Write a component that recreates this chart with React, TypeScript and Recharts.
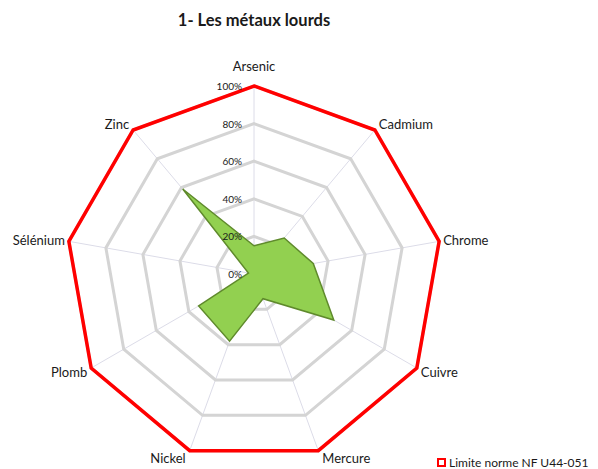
import React from 'react';
import { RadarChart, Radar, PolarGrid, PolarAngleAxis, PolarRadiusAxis, Legend } from 'recharts';

const title = '1- Les métaux lourds';
const categories = ['Arsenic', 'Cadmium', 'Chrome', 'Cuivre', 'Mercure', 'Nickel', 'Plomb', 'Sélénium', 'Zinc'];
const teneurs = [15, 25, 32, 49, 14, 38, 34, 3, 59];
const limite = [100, 100, 100, 100, 100, 100, 100, 100, 100];
const radiusTicks = [0, 20, 40, 60, 80, 100];
const limiteLabel = 'Limite norme NF U44-051';

const data = categories.map((c, i) => ({ categorie: c, teneur: teneurs[i], limite: limite[i] }));

const W = 590;
const H = 461;
const CX = 246;
const CY = 266;
const R = 188;
const FONT = 'Lato, "Liberation Sans", sans-serif';
const RAD = Math.PI / 180;

function AngleTick(props: any) {
  const { payload } = props;
  const cx = typeof props.cx === 'number' ? props.cx : CX;
  const cy = typeof props.cy === 'number' ? props.cy : CY;
  const radius = typeof props.radius === 'number' ? props.radius : R;
  const a = payload.coordinate;
  const c = Math.cos(a * RAD);
  const s = Math.sin(a * RAD);
  const vx = cx + radius * c;
  const vy = cy - radius * s;
  const anchor = Math.abs(c) < 0.1 ? 'middle' : c > 0 ? 'start' : 'end';
  const x = vx + (Math.abs(c) < 0.1 ? 0 : Math.sign(c) * 4);
  const y = s > 0.9 ? vy - 20 : vy - 8 * s;
  return (
    <text x={x} y={y} textAnchor={anchor} dominantBaseline="central" fontSize={13} fontFamily={FONT} fill="#1a1a1a">
      {payload.value}
    </text>
  );
}

function RadiusTick(props: any) {
  const { x, y, payload } = props;
  return (
    <text x={x - 12} y={y} textAnchor="end" dominantBaseline="central" fontSize={10} fontFamily={FONT} fill="#1a1a1a">
      {payload.value}%
    </text>
  );
}

function LegendContent() {
  return (
    <div style={{ display: 'flex', alignItems: 'center', fontFamily: FONT, fontSize: 12, color: '#1a1a1a', whiteSpace: 'nowrap' }}>
      <span style={{ display: 'inline-block', width: 5, height: 5, border: '2px solid #ff0000', background: '#fff', marginRight: 3 }} />
      {limiteLabel}
    </div>
  );
}

export default function App() {
  return (
    <div style={{ position: 'relative', width: W, height: H, fontFamily: FONT }}>
      <div style={{ position: 'absolute', left: 0, top: 3, width: 492, textAlign: 'center', fontWeight: 700, fontSize: 16.5, lineHeight: '18px', color: '#1a1a1a', zIndex: 2 }}>
        {title}
      </div>
      <RadarChart width={W} height={H} data={data} cx={CX} cy={CY} outerRadius={R} margin={{ top: 0, right: 0, bottom: 0, left: 0 }}>
        <PolarGrid gridType="polygon" polarRadius={[0]} stroke="#dcdce8" strokeWidth={1} />
        <PolarGrid gridType="polygon" radialLines={false} stroke="#d4d4d4" strokeWidth={3} />
        <PolarAngleAxis dataKey="categorie" tick={<AngleTick />} tickLine={false} axisLine={false} />
        <PolarRadiusAxis angle={90} domain={[0, 100]} ticks={radiusTicks} tickCount={6} axisLine={false} tick={<RadiusTick />} tickLine={false} />
        <Radar name="Teneur" dataKey="teneur" fill="#92d050" fillOpacity={1} stroke="#5f8a2c" strokeWidth={1.5} dot={false} isAnimationActive={false} />
        <Radar name={limiteLabel} dataKey="limite" fill="none" fillOpacity={0} stroke="#ff0000" strokeWidth={3.5} dot={false} isAnimationActive={false} />
        <Legend content={<LegendContent />} wrapperStyle={{ left: 429, top: 447, bottom: 'auto', width: 165 }} />
      </RadarChart>
    </div>
  );
}
